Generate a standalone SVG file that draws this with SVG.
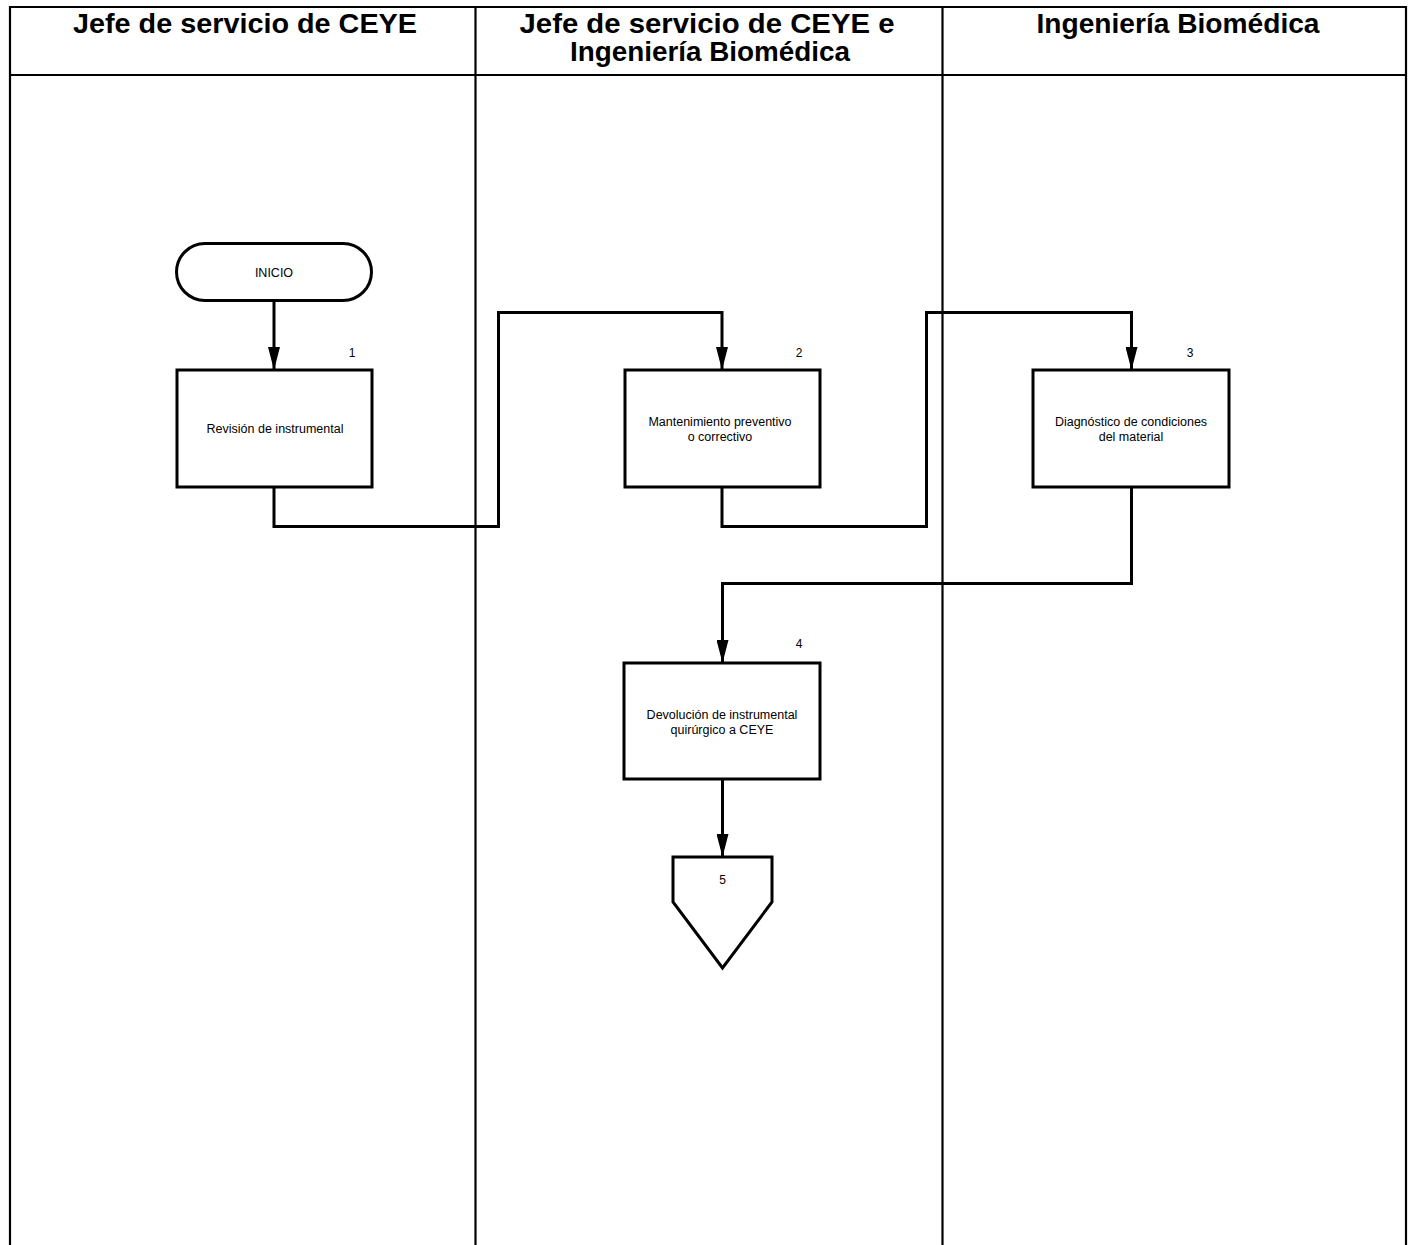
<svg xmlns="http://www.w3.org/2000/svg" width="1413" height="1245" viewBox="0 0 1413 1245">
<style>
.lane{stroke:#000;stroke-width:2.2;fill:none}
.hdr{font-family:"Liberation Sans",Arial,sans-serif;font-weight:bold;font-size:27px;fill:#000;text-anchor:middle}
.box{fill:#fff;stroke:#000;stroke-width:3}
.t{font-family:"Liberation Sans",Arial,sans-serif;font-size:12.5px;fill:#000;text-anchor:middle}
.n{font-family:"Liberation Sans",Arial,sans-serif;font-size:12px;fill:#000;text-anchor:middle}
.c{fill:none;stroke:#000;stroke-width:3;stroke-linejoin:miter}
</style>
<defs>
<marker id="arr" markerUnits="userSpaceOnUse" viewBox="0 0 23 12" refX="23" refY="6" markerWidth="23" markerHeight="12" orient="auto">
<path d="M0,0 L23,6 L0,12 Z" fill="#000"/>
</marker>
</defs>
<rect width="1413" height="1245" fill="#fff"/>
<g id="lanes">
<path class="lane" d="M10,1245 V7 H1406 V1245"/>
<line class="lane" x1="10" y1="75" x2="1406" y2="75"/>
<line class="lane" x1="475.5" y1="7" x2="475.5" y2="1245"/>
<line class="lane" x1="942.5" y1="7" x2="942.5" y2="1245"/>
<text class="hdr" x="245" y="33" textLength="344" lengthAdjust="spacingAndGlyphs">Jefe de servicio de CEYE</text>
<text class="hdr" x="707" y="33" textLength="375" lengthAdjust="spacingAndGlyphs">Jefe de servicio de CEYE e</text>
<text class="hdr" x="710" y="61" textLength="280" lengthAdjust="spacingAndGlyphs">Ingeniería Biomédica</text>
<text class="hdr" x="1178" y="33" textLength="283" lengthAdjust="spacingAndGlyphs">Ingeniería Biomédica</text>
</g>
<g id="connectors">
<path class="c" d="M274,300 V370" marker-end="url(#arr)"/>
<path class="c" d="M274,487 V526.5 H498.5 V312.5 H722 V370" marker-end="url(#arr)"/>
<path class="c" d="M722,487 V526.5 H926.5 V312.5 H1131.5 V370" marker-end="url(#arr)"/>
<path class="c" d="M1131.5,487 V583.5 H722.5 V663" marker-end="url(#arr)"/>
<path class="c" d="M722.5,779 V857" marker-end="url(#arr)"/>
</g>
<g id="inicio">
<rect class="box" x="176.5" y="243.5" width="195" height="57" rx="28.5" ry="28.5"/>
<text class="t" x="274" y="277" font-size="11.5">INICIO</text>
</g>
<g id="n1">
<rect class="box" x="177" y="370" width="195" height="117"/>
<text class="n" x="352" y="357">1</text>
<text class="t" x="275" y="433">Revisión de instrumental</text>
</g>
<g id="n2">
<rect class="box" x="625" y="370" width="195" height="117"/>
<text class="n" x="799" y="357">2</text>
<text class="t" x="720" y="426">Mantenimiento preventivo</text>
<text class="t" x="720" y="441">o correctivo</text>
</g>
<g id="n3">
<rect class="box" x="1033" y="370" width="196" height="117"/>
<text class="n" x="1190" y="357">3</text>
<text class="t" x="1131" y="426">Diagnóstico de condiciones</text>
<text class="t" x="1131" y="441">del material</text>
</g>
<g id="n4">
<rect class="box" x="624" y="663" width="196" height="116"/>
<text class="n" x="799" y="648">4</text>
<text class="t" x="722" y="719">Devolución de instrumental</text>
<text class="t" x="722" y="734">quirúrgico a CEYE</text>
</g>
<g id="n5">
<path class="box" d="M673,857 H772 V902 L722.5,968 L673,902 Z"/>
<text class="n" x="722.5" y="884">5</text>
</g>
</svg>
